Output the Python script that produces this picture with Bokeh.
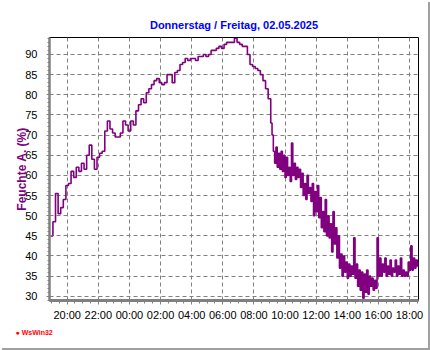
from bokeh.plotting import figure
from bokeh.models import FixedTicker, Range1d, Title
from bokeh.embed import file_html
from bokeh.resources import INLINE

# ---------------- data ----------------
title_text = "Donnerstag / Freitag, 02.05.2025"
y_label = "Feuchte A. (%)"
logo_text = "● WsWin32"

# Night: one reading every 10 minutes, Thursday 18:55 ... Friday 08:55
night_start_hour = 18 + 55 / 60
night_step_minutes = 10
humidity_night = [
    45.0, 48.5, 55.5, 50.5, 52.0, 54.0, 57.5, 58.0,          # 18:55 - 20:05
    61.0, 59.5, 62.0, 61.0, 63.0, 61.5,                      # 20:15 - 21:05
    65.0, 67.5, 64.0, 61.5, 64.5, 65.5,                      # 21:15 - 22:05
    66.0, 71.0, 73.5, 71.5, 70.5, 69.5,                      # 22:15 - 23:05
    69.5, 70.5, 73.5, 72.5, 71.0, 73.5,                      # 23:15 - 00:05
    72.5, 76.0, 77.5, 79.0, 78.0, 80.5,                      # 00:15 - 01:05
    81.5, 82.5, 83.5, 84.0, 83.0, 82.5,                      # 01:15 - 02:05
    83.0, 85.0, 85.0, 83.0, 85.5, 86.0,                      # 02:15 - 03:05
    87.5, 88.0, 89.0, 88.5, 89.0, 89.0,                      # 03:15 - 04:05
    88.5, 89.5, 89.5, 90.0, 89.5, 90.0,                      # 04:15 - 05:05
    91.0, 91.0, 91.5, 92.0, 91.5, 92.5,                      # 05:15 - 06:05
    93.0, 93.0, 93.0, 94.0, 93.0, 92.5,                      # 06:15 - 07:05
    92.0, 92.0, 90.0, 87.5, 87.0, 86.5,                      # 07:15 - 08:05
    86.0, 85.0, 83.5, 81.5, 79.0, 76.0,                      # 08:15 - 08:55
]

# Day: one reading every 5 minutes, Friday 09:05 ... 18:35
day_start_hour = 33 + 5 / 60
day_step_minutes = 5
humidity_day = [
    73.0, 70.0, 66.0, 63.0, 67.0, 62.0, 65.5, 61.5, 66.0, 61.0, 65.0,        # 09:05 - 09:55
    59.5, 64.5, 60.0, 62.0, 58.5, 68.0, 60.0, 63.0, 59.0, 62.0, 59.5, 61.5,  # 10:00 - 10:55
    57.0, 60.5, 55.0, 58.0, 54.0, 60.0, 55.5, 57.0, 53.5, 58.0, 50.0, 56.0,  # 11:00 - 11:55
    51.0, 57.5, 49.5, 54.5, 47.0, 51.0, 46.0, 54.0, 45.0, 50.0, 44.5, 48.0,  # 12:00 - 12:55
    41.0, 51.0, 43.0, 47.0, 39.5, 45.0, 37.0, 40.5, 35.0, 40.0, 36.0, 38.5,  # 13:00 - 13:55
    34.5, 38.0, 35.0, 37.5, 35.5, 44.5, 34.5, 38.0, 32.5, 36.5, 31.5, 36.0,  # 14:00 - 14:55
    29.5, 35.5, 31.0, 36.5, 30.5, 35.0, 32.5, 34.5, 31.5, 34.0, 32.0, 44.5,  # 15:00 - 15:55
    35.0, 39.5, 35.0, 38.0, 36.0, 39.5, 35.0, 37.5, 35.5, 39.0, 35.0, 37.0,  # 16:00 - 16:55
    36.0, 39.0, 35.0, 37.5, 35.5, 39.5, 35.0, 36.5, 35.0, 36.0, 35.0, 38.5,  # 17:00 - 17:55
    36.5, 42.5, 36.5, 39.5, 37.0, 39.0, 37.5, 38.5,                          # 18:00 - 18:35
]

x_tick_hours = [20, 22, 24, 26, 28, 30, 32, 34, 36, 38, 40, 42]
x_tick_labels = ["20:00", "22:00", "00:00", "02:00", "04:00", "06:00",
                 "08:00", "10:00", "12:00", "14:00", "16:00", "18:00"]
x_minor_hours = [h / 2 for h in range(38, 86)]
y_ticks = [30, 35, 40, 45, 50, 55, 60, 65, 70, 75, 80, 85, 90]
y_minor = list(range(29, 95))

x_start, x_end = 18.863, 42.58
y_start, y_end = 28.96, 94.2

times = ([night_start_hour + i * night_step_minutes / 60 for i in range(len(humidity_night))]
         + [day_start_hour + i * day_step_minutes / 60 for i in range(len(humidity_day))])
humidity = humidity_night + humidity_day

# ---------------- figure ----------------
FONT = "Liberation Sans"
PURPLE = "#800080"
GRAY = "#808080"

p = figure(width=428, height=348, output_backend="svg", toolbar_location=None,
           x_range=Range1d(x_start, x_end), y_range=Range1d(y_start, y_end),
           min_border_left=49, min_border_right=10, min_border_top=37,
           min_border_bottom=48)
p.styles = {"box-shadow": "2px 2px 0 0 #a0a0a0"}

p.background_fill_color = "white"
p.border_fill_color = "white"
p.outline_line_color = "black"
p.outline_line_width = 1

p.title.text = title_text
p.title.align = "center"
p.title.text_color = "#0000FF"
p.title.text_font = FONT
p.title.text_font_size = "11px"
p.title.text_font_style = "bold"
p.title.standoff = 14

p.step(times, humidity, mode="after", line_color=PURPLE, line_width=1.6)

# x axis
xt = FixedTicker(ticks=x_tick_hours, minor_ticks=x_minor_hours)
p.xaxis.ticker = xt
p.xaxis.major_label_overrides = {h: l for h, l in zip(x_tick_hours, x_tick_labels)}
p.xaxis.axis_line_color = GRAY
p.xaxis.axis_line_width = 3
p.xaxis.major_tick_line_color = GRAY
p.xaxis.minor_tick_line_color = GRAY
p.xaxis.major_tick_in = 0
p.xaxis.major_tick_out = 4
p.xaxis.minor_tick_in = 0
p.xaxis.minor_tick_out = 3
p.xaxis.major_label_text_font = FONT
p.xaxis.major_label_text_font_size = "11px"
p.xaxis.major_label_text_color = "black"
p.xaxis.major_label_standoff = 4

# y axis
yt = FixedTicker(ticks=y_ticks, minor_ticks=y_minor)
p.yaxis.ticker = yt
p.yaxis.axis_line_color = GRAY
p.yaxis.axis_line_width = 2.5
p.yaxis.major_tick_line_color = GRAY
p.yaxis.minor_tick_line_color = GRAY
p.yaxis.major_tick_in = 3
p.yaxis.major_tick_out = 3
p.yaxis.minor_tick_in = 0
p.yaxis.minor_tick_out = 2
p.yaxis.major_label_text_font = FONT
p.yaxis.major_label_text_font_size = "11px"
p.yaxis.major_label_text_color = "black"
p.yaxis.major_label_standoff = 9
p.yaxis.axis_label = y_label
p.yaxis.axis_label_text_color = PURPLE
p.yaxis.axis_label_text_font = FONT
p.yaxis.axis_label_text_font_size = "12px"
p.yaxis.axis_label_text_font_style = "bold"
p.yaxis.axis_label_standoff = -7

# grid
p.xgrid.ticker = xt
p.ygrid.ticker = yt
for g in (p.xgrid, p.ygrid):
    g.grid_line_color = GRAY
    g.grid_line_dash = "4 3"
    g.grid_line_width = 1

# logo line below the axis
p.add_layout(Title(text=logo_text, align="left", offset=-34, standoff=6,
                   text_color="#FF0000", text_font=FONT, text_font_size="7px",
                   text_font_style="bold"), "below")

open("out.html", "w").write(file_html(p, INLINE))
